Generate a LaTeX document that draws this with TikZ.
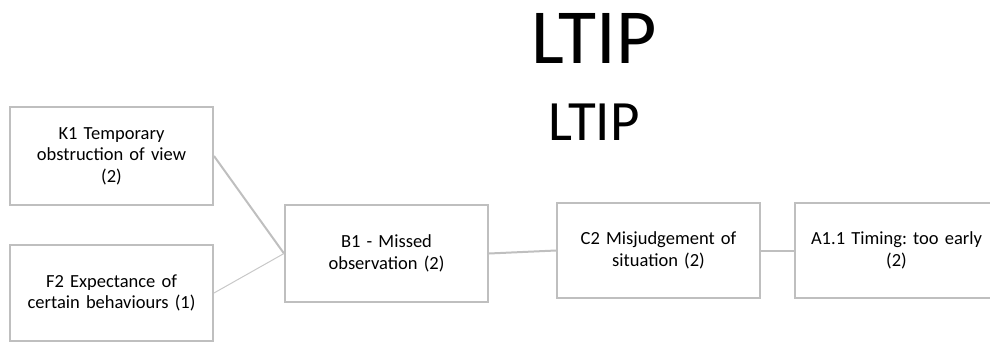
\documentclass[tikz,border=0pt]{standalone}
\usepackage{fontspec}
\setmainfont{Carlito}
\frenchspacing
\definecolor{boxline}{RGB}{191,191,191}
\definecolor{thinline}{RGB}{200,200,200}
\begin{document}
\begin{tikzpicture}[x=1pt,y=-1pt,
  cause/.style={draw=boxline, line width=2pt, fill=white, minimum width=203pt,
    minimum height=#1, text width=195pt, align=center, inner sep=0pt,
    font=\fontsize{18.5}{21.5}\selectfont},
  link/.style={draw=boxline, line width=2pt},
  weaklink/.style={draw=thinline, line width=1pt}]
\useasboundingbox (0,0) rectangle (990,343);
% headings
\node[anchor=base, inner sep=0pt, font=\fontsize{78}{80}\selectfont] (title) at (594,63) {LTIP};
\node[anchor=base, inner sep=0pt, font=\fontsize{57}{60}\selectfont] (subtitle) at (594,140) {LTIP};
% boxes
\node[cause=98pt] (k1) at (111.5,156) {K1 Temporary\\obstruction of view\\(2)};
\node[cause=96pt] (f2) at (111.5,293) {F2 Expectance of\\certain behaviours (1)};
\node[cause=97pt] (b1) at (386.5,253.5) {B1 - Missed\\observation (2)};
\node[cause=95pt] (c2) at (658.5,250.5) {C2 Misjudgement of\\situation (2)};
\node[cause=95pt] (a11) at (896.5,250.5) {A1.1 Timing: too early\\(2)};
% connectors
\draw[link] (k1.east) -- (b1.west);
\draw[weaklink] (f2.east) -- (b1.west);
\draw[link] (b1.east) -- (c2.west);
\draw[link] (c2.east) -- (a11.west);
\end{tikzpicture}
\end{document}
